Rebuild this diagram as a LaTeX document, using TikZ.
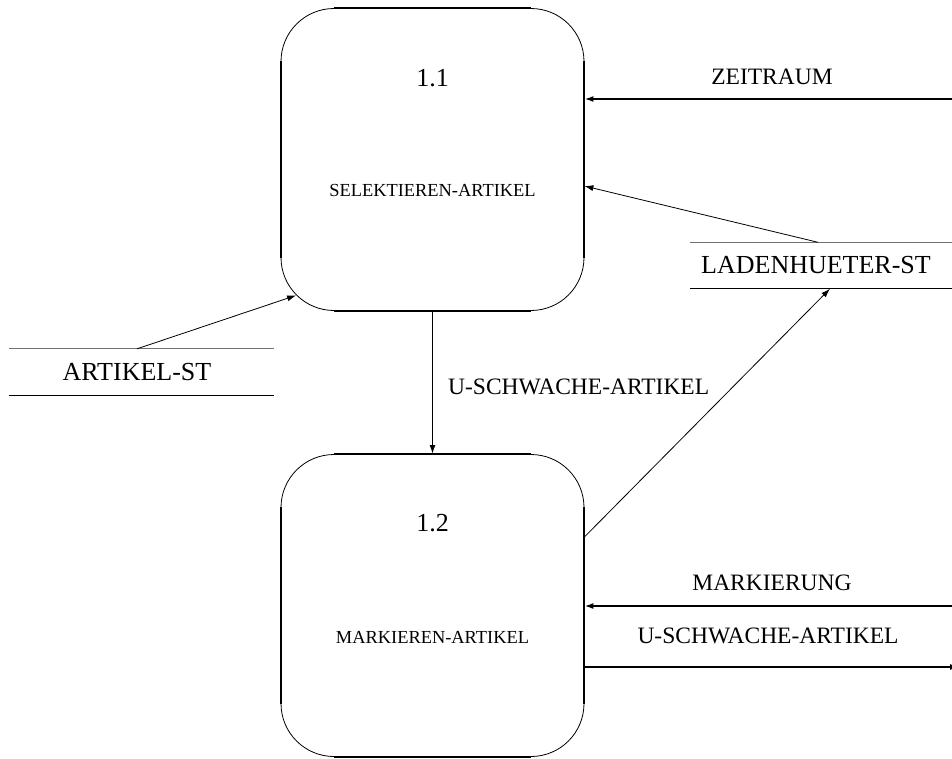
\documentclass[tikz,border=0pt]{standalone}
\usepackage{fontspec}
\setmainfont{Liberation Serif}
\usetikzlibrary{arrows.meta,calc}
\begin{document}
\begin{tikzpicture}[x=1pt,y=-1pt,
  proc/.style={rectangle, rounded corners=53pt, draw, line width=0.8pt, minimum width=303pt, minimum height=302pt, inner sep=0pt},
  side/.style={line width=2pt, line cap=butt},
  store/.style={rectangle, minimum height=46pt, inner sep=0pt, font=\fontsize{26}{30}\selectfont},
  stline/.style={line width=0.9pt},
  sttop/.style={line width=1pt, black!55},
  flowlbl/.style={font=\fontsize{23.5}{28}\selectfont, inner sep=0pt},
  numlbl/.style={font=\fontsize{26}{30}\selectfont, inner sep=0pt},
  namelbl/.style={font=\fontsize{18.4}{22}\selectfont, inner sep=0pt},
  tip/.style={-{Latex[length=9pt,width=6pt]}},
  thickflow/.style={tip, line width=2pt},
  midflow/.style={tip, line width=1.5pt},
  thinflow/.style={tip, line width=0.8pt}
]
\useasboundingbox (0,0) rectangle (952,758);

% processes
\node[proc] (p11) at (432.5,159.5) {};
\node[proc] (p12) at (432.5,605.5) {};
\foreach \p in {p11,p12}{
  \draw[side] ([xshift=53pt]\p.north west) -- ([xshift=-53pt]\p.north east);
  \draw[side] ([xshift=53pt]\p.south west) -- ([xshift=-53pt]\p.south east);
  \draw[side] ([yshift=-53pt]\p.north west) -- ([yshift=53pt]\p.south west);
  \draw[side] ([yshift=-53pt]\p.north east) -- ([yshift=53pt]\p.south east);
}
\node[numlbl] (n11) at (432.5,78) {1.1};
\node[namelbl] (t11) at (432.5,190) {SELEKTIEREN-ARTIKEL};
\node[numlbl] (n12) at (432.5,523) {1.2};
\node[namelbl] (t12) at (432.5,637) {MARKIEREN-ARTIKEL};

% stores
\node[store, minimum width=265pt] (ast) at (141.5,372) {\hspace*{-9pt}ARTIKEL-ST};
\draw[sttop] (ast.north west) -- (ast.north east);
\draw[stline] (ast.south west) -- (ast.south east);
\node[store, minimum width=262pt] (lst) at (821,265.5) {\hspace*{-10pt}LADENHUETER-ST};
\draw[sttop] (lst.north west) -- (lst.north east);
\draw[stline] (lst.south west) -- (lst.south east);

% free ends at the right edge
\coordinate (zin) at (952,99);
\coordinate (min) at (952,606);
\coordinate (uout) at (959,667);

% flows
\draw[thickflow] (zin) -- (zin -| p11.east);
\node[flowlbl] (lz) at (772,77) {ZEITRAUM};

\draw[thinflow] ([xshift=-3pt]lst.north) -- ([yshift=-26.5pt]p11.east);

\draw[thinflow] ([xshift=-4.5pt]ast.north) -- ([xshift=15.5pt,yshift=15.5pt]p11.south west);

\draw[midflow] (p11.south) -- (p12.north);
\node[flowlbl, anchor=west] (lu1) at (448,387) {U-SCHWACHE-ARTIKEL};

\draw[thinflow] ([yshift=68.5pt]p12.east) -- ([xshift=9pt]lst.south);

\draw[thickflow] (min) -- (min -| p12.east);
\node[flowlbl] (lm) at (772,583) {MARKIERUNG};

\draw[thickflow] (uout -| p12.east) -- (uout);
\node[flowlbl] (lu2) at (768,636) {U-SCHWACHE-ARTIKEL};
\end{tikzpicture}
\end{document}
